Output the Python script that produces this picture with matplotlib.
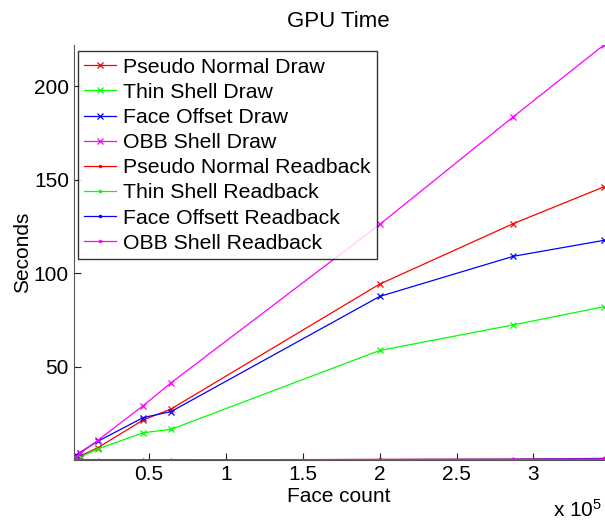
import matplotlib
matplotlib.use('Agg')
from matplotlib import pyplot as plt
from matplotlib.ticker import FuncFormatter

plt.rcParams['font.family'] = ['Liberation Sans', 'DejaVu Sans']
plt.rcParams['mathtext.default'] = 'regular'

# Face count for each measurement
face_count = [1200, 2500, 5000, 16800, 46300, 64400, 200000, 287000, 345700]

# GPU draw time (seconds)
pseudo_normal_draw = [0.5, 1.0, 2.0, 6.6, 21.4, 27.3, 94.1, 126.5, 146.1]
thin_shell_draw = [0.4, 0.8, 1.5, 5.9, 14.6, 16.4, 58.6, 72.3, 82.0]
face_offset_draw = [1.0, 2.5, 4.0, 10.0, 22.7, 25.9, 87.5, 109.0, 117.5]
obb_shell_draw = [0.8, 1.8, 3.5, 10.5, 29.1, 41.3, 126.0, 183.7, 222.0]

# GPU readback time (seconds)
pseudo_normal_readback = [0.02, 0.03, 0.04, 0.06, 0.1, 0.12, 0.3, 0.45, 0.9]
thin_shell_readback = [0.01, 0.02, 0.03, 0.04, 0.07, 0.09, 0.2, 0.3, 0.5]
face_offset_readback = [0.02, 0.03, 0.04, 0.05, 0.09, 0.1, 0.25, 0.35, 0.6]
obb_shell_readback = [0.02, 0.03, 0.04, 0.05, 0.08, 0.1, 0.22, 0.3, 0.5]

labels = ['Pseudo Normal Draw', 'Thin Shell Draw', 'Face Offset Draw',
          'OBB Shell Draw', 'Pseudo Normal Readback', 'Thin Shell Readback',
          'Face Offsett Readback', 'OBB Shell Readback']
colors = ['#ff0000', '#00ff00', '#0000ff', '#ff00ff']


def main():
    fig = plt.figure(figsize=(6.05, 5.2), dpi=100)
    ax = fig.add_axes([0.122, 0.1154, 0.876, 0.798])

    draws = [pseudo_normal_draw, thin_shell_draw, face_offset_draw, obb_shell_draw]
    readbacks = [pseudo_normal_readback, thin_shell_readback,
                 face_offset_readback, obb_shell_readback]

    for series, c in zip(draws, colors):
        ax.plot(face_count, series, color=c, lw=0.9, marker='x',
                markersize=5, markeredgewidth=0.9)
    for series, c in zip(readbacks, colors):
        ax.plot(face_count, series, color=c, lw=0.9, marker='.',
                markersize=3)

    all_y = draws[0] + draws[1] + draws[2] + draws[3] + readbacks[0] + \
        readbacks[1] + readbacks[2] + readbacks[3]
    ax.set_xlim(min(face_count), max(face_count))
    ax.set_ylim(min(all_y), max(all_y))

    ax.set_xticks([50000, 100000, 150000, 200000, 250000, 300000])
    ax.set_yticks([50, 100, 150, 200])
    ax.xaxis.set_major_formatter(FuncFormatter(lambda v, p: '%g' % (v / 1e5)))

    ax.spines['top'].set_visible(False)
    ax.spines['right'].set_visible(False)
    ax.spines['left'].set_color('#555555')
    ax.spines['bottom'].set_color('#555555')
    ax.tick_params(direction='in', length=5, width=0.8, labelsize=15,
                   color='#222222')

    ax.set_title('GPU Time', fontsize=16, pad=13)
    ax.set_xlabel('Face count', fontsize=15, labelpad=2)
    ax.set_ylabel('Seconds', fontsize=15, labelpad=1)
    fig.text(0.995, 0.019, 'x 10$^5$', fontsize=15, ha='right', va='center')

    leg = ax.legend(labels, loc='upper left', bbox_to_anchor=(0.008, 0.985),
                    fontsize=15.3, frameon=True, fancybox=False,
                    handlelength=1.5, handletextpad=0.3, labelspacing=0.29,
                    borderpad=0.3, borderaxespad=0)
    leg.get_frame().set_edgecolor('black')
    leg.get_frame().set_linewidth(1.0)

    fig.savefig('out.png', dpi=100)


if __name__ == '__main__':
    main()
